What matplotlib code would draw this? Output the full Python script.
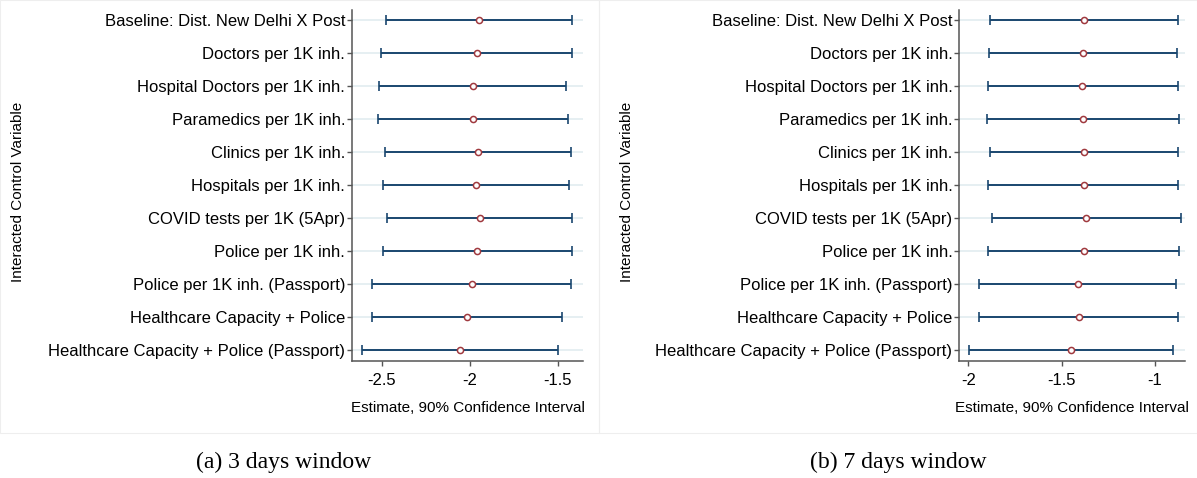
import numpy as np
import matplotlib
matplotlib.use("Agg")
import matplotlib.pyplot as plt
from matplotlib.patches import Rectangle
from matplotlib.ticker import FixedLocator, FuncFormatter

# ==================================================
# Data
# ==================================================

labels = [
    "Baseline: Dist. New Delhi X Post",
    "Doctors per 1K inh.",
    "Hospital Doctors per 1K inh.",
    "Paramedics per 1K inh.",
    "Clinics per 1K inh.",
    "Hospitals per 1K inh.",
    "COVID tests per 1K (5Apr)",
    "Police per 1K inh.",
    "Police per 1K inh. (Passport)",
    "Healthcare Capacity + Police",
    "Healthcare Capacity + Police (Passport)",
]

# (a) 3 days window
est3 = [-1.950, -1.960, -1.984, -1.980, -1.956, -1.965, -1.945, -1.958, -1.989, -2.015, -2.058]
lo3 = [-2.478, -2.502, -2.514, -2.519, -2.484, -2.493, -2.469, -2.495, -2.553, -2.553, -2.614]
hi3 = [-1.420, -1.423, -1.455, -1.441, -1.428, -1.435, -1.418, -1.422, -1.426, -1.476, -1.502]

# (b) 7 days window
est7 = [-1.382, -1.387, -1.390, -1.387, -1.378, -1.382, -1.370, -1.382, -1.415, -1.409, -1.448]
lo7 = [-1.885, -1.887, -1.897, -1.901, -1.885, -1.893, -1.873, -1.897, -1.942, -1.942, -1.998]
hi7 = [-0.875, -0.882, -0.880, -0.872, -0.876, -0.876, -0.863, -0.871, -0.888, -0.876, -0.904]

ticks3 = [-2.5, -2.0, -1.5]
ticks7 = [-2.0, -1.5, -1.0]
captions = ["(a) 3 days window", "(b) 7 days window"]

# ==================================================
# Style
# ==================================================

plt.rcParams["font.family"] = ["Liberation Sans", "DejaVu Sans"]
plt.rcParams["axes.unicode_minus"] = False

NAVY = "#1a476f"
MAROON = "#a03a3f"
GRID = "#e6eff2"
SPINE = "#555555"

W, H = 1197, 478
fig = plt.figure(figsize=(W / 100, H / 100), dpi=100)


def px_axes(x0, x1, y0, y1):
    return fig.add_axes([x0 / W, 1 - y1 / H, (x1 - x0) / W, (y1 - y0) / H])


def coef_panel(ax, est, lo, hi, ticks, xlim, ylab_x):
    est = np.array(est)
    lo = np.array(lo)
    hi = np.array(hi)
    y = np.arange(1, len(est) + 1)

    for yi in y:
        ax.axhline(yi, color=GRID, lw=1.4, zorder=0)

    ax.errorbar(est, y, xerr=[est - lo, hi - est], fmt="none",
                ecolor=NAVY, elinewidth=1.4, capsize=3.3, capthick=1.2, zorder=2)
    ax.plot(est, y, "o", ms=4.4, mfc="white", mec=MAROON, mew=1.1, zorder=3)

    ax.set_ylim(len(est) + 0.32, 0.7)
    ax.set_xlim(*xlim)
    ax.set_yticks(y)
    ax.set_yticklabels(labels, fontsize=12)
    ax.xaxis.set_major_locator(FixedLocator(ticks))
    ax.xaxis.set_major_formatter(FuncFormatter(lambda v, p: "%g" % v))
    ax.tick_params(axis="x", labelsize=12, length=3.5, pad=5, color=SPINE, width=1)
    ax.tick_params(axis="y", length=3.5, pad=1.5, color=SPINE, width=1)

    for s in ["top", "right"]:
        ax.spines[s].set_visible(False)
    for s in ["left", "bottom"]:
        ax.spines[s].set_color(SPINE)
        ax.spines[s].set_linewidth(1.1)

    ax.set_xlabel("Estimate, 90% Confidence Interval", fontsize=11)
    ax.xaxis.set_label_coords(0.5, -47 / 350.7)
    ax.xaxis.label.set_va("center")
    ax.set_ylabel("Interacted Control Variable", fontsize=11)
    ax.yaxis.set_label_coords(ylab_x, 0.48)
    ax.yaxis.label.set_va("center")


ax1 = px_axes(352, 583, 10, 360.7)
coef_panel(ax1, est3, lo3, hi3, ticks3, (-2.669, -1.358), (18 - 352) / 231)

ax2 = px_axes(959.3, 1185, 10, 360.7)
coef_panel(ax2, est7, lo7, hi7, ticks7, (-2.048, -0.84), (627 - 959.3) / 225.7)

# faint graph-region borders
for x0, x1 in [(0, 599), (599, 1197)]:
    fig.add_artist(Rectangle((x0 / W, 1 - 433 / H), (x1 - x0) / W, 433 / H,
                             transform=fig.transFigure, fill=False,
                             ec="#eeeeee", lw=0.8))

for cx, txt in zip([284, 898], captions):
    fig.text(cx / W, 1 - 462 / H, txt, ha="center", va="center",
             fontsize=17, family=["Liberation Serif", "DejaVu Serif"])

fig.savefig("out.png", dpi=100)
